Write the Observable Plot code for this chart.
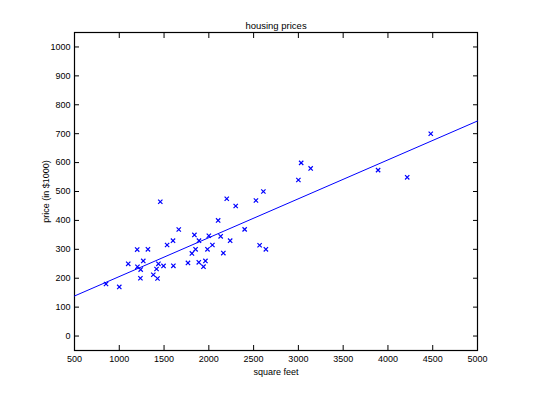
<!DOCTYPE html>
<html><head><meta charset="utf-8">
<script src="https://cdn.jsdelivr.net/npm/d3@7"></script>
<script src="https://cdn.jsdelivr.net/npm/@observablehq/plot@0.6"></script>
<style>body{margin:0;background:#fff;} svg{font-family:"Liberation Sans",Arial,sans-serif;}</style>
</head><body><div id="chart"></div>
<script>
const sqft = [2104,1600,2400,1416,3000,1985,1534,1427,1380,1494,1940,2000,1890,4478,1268,2300,1320,1236,2609,3031,1767,1888,1604,1962,3890,1100,1458,2526,2200,2637,1839,1000,2040,3137,1811,1437,1239,2132,4215,2162,1664,2238,2567,1200,852,1852,1203];
const price = [399.9,329.9,369.0,232.0,539.9,299.9,314.9,199.0,212.0,242.5,240.0,347.0,330.0,699.9,259.9,449.9,299.9,199.9,500.0,599.0,252.9,255.0,242.9,259.9,573.9,249.9,464.5,469.0,475.0,299.9,349.9,169.9,314.9,579.9,285.9,249.9,229.9,345.0,549.0,287.0,368.5,329.9,314.0,299.0,179.9,299.9,239.5];
const fitX = [500, 5000];
const fitY = [138.5, 743.9];
const xTicks = [500,1000,1500,2000,2500,3000,3500,4000,4500,5000];
const yTicks = [0,100,200,300,400,500,600,700,800,900,1000];

const pts = sqft.map((s,i)=>({s, p: price[i]}));
const fit = fitX.map((x,i)=>({x, y: fitY[i]}));

const chart = Plot.plot({
  width: 537, height: 394,
  marginLeft: 74, marginRight: 60, marginTop: 32, marginBottom: 44,
  style: {fontSize: "9px", fontFamily: "Liberation Sans, Arial, sans-serif", color: "#000", background: "#fff"},
  x: {domain: [500, 5000]},
  y: {domain: [-50, 1050]},
  marks: [
    Plot.frame({stroke: "#000", strokeWidth: 1.2}),
    Plot.axisX(xTicks, {anchor: "bottom", tickSize: -5, tickPadding: 10, tickFormat: "d", label: "square feet", labelAnchor: "center", labelOffset: 24, labelArrow: "none", fontSize: 9}),
    Plot.axisX(xTicks, {anchor: "top", tickSize: -5, text: null, label: null}),
    Plot.axisY(yTicks, {anchor: "left", tickSize: -5, tickPadding: 9, tickFormat: "d", label: "price (in $1000)", labelAnchor: "center", labelOffset: 32, labelArrow: "none", fontSize: 9}),
    Plot.axisY(yTicks, {anchor: "right", tickSize: -5, text: null, label: null}),
    Plot.line(fit, {x: "x", y: "y", stroke: "#0000ff", strokeWidth: 1}),
    Plot.dot(pts, {x: "s", y: "p", symbol: "times", r: 2.1, stroke: "#0000ff", strokeWidth: 1.2}),
    Plot.text(["housing prices"], {frameAnchor: "top", dy: -10, fontSize: 9.5, fill: "#000"})
  ]
});
document.getElementById("chart").append(chart);
</script></body></html>
